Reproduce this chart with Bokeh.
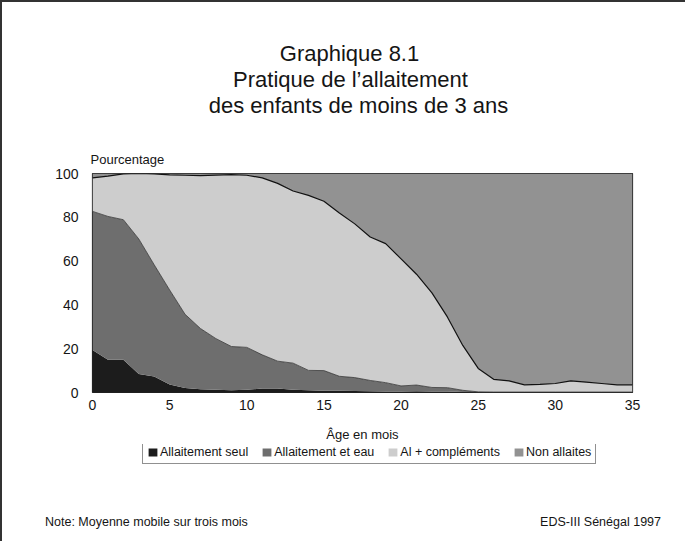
import numpy as np
from bokeh.plotting import figure
from bokeh.layouts import column
from bokeh.models import ColumnDataSource, Legend, LegendItem, Range1d, Title, Label, Div
from bokeh.embed import file_html
from bokeh.resources import INLINE

# ---- data ----
months = list(range(36))
seul = [19.4, 15.0, 15.0, 8.5, 7.3, 3.6, 2.0, 1.5, 1.2, 1.0, 1.2, 1.8,
        1.8, 1.2, 1.0, 0.8, 0.8, 0.7, 0.6, 0.5, 0.5, 0.6, 0.5, 0.4,
        0.2, 0.1, 0.1, 0.1, 0.1, 0.1, 0.1, 0.1, 0.1, 0.1, 0.1, 0.1]
eau = [63.3, 65.4, 63.9, 61.6, 51.0, 43.2, 33.7, 27.7, 23.4, 20.0, 19.4, 15.4,
       12.5, 12.2, 9.1, 9.2, 6.6, 6.1, 4.9, 4.0, 2.5, 2.8, 1.8, 1.8,
       0.8, 0.2, 0.1, 0.1, 0.1, 0.1, 0.1, 0.1, 0.1, 0.1, 0.1, 0.1]
complements = [15.3, 18.4, 20.9, 29.9, 41.5, 52.6, 63.5, 69.8, 74.7, 78.5, 78.6, 80.8,
               81.2, 78.6, 79.9, 77.3, 74.6, 70.2, 65.5, 63.5, 58.0, 50.6, 43.2, 32.3,
               20.5, 10.7, 5.8, 5.1, 3.3, 3.5, 3.9, 5.1, 4.5, 3.9, 3.3, 3.3]
non_allaites = [2.0, 1.2, 0.2, 0.0, 0.2, 0.6, 0.8, 1.0, 0.7, 0.5, 0.8, 2.0,
                4.5, 8.0, 10.0, 12.7, 18.0, 23.0, 29.0, 32.0, 39.0, 46.0, 54.5, 65.5,
                78.5, 89.0, 94.0, 94.7, 96.5, 96.3, 95.9, 94.7, 95.3, 95.9, 96.5, 96.5]
series_names = ["Allaitement seul", "Allaitement et eau", "Al + compléments", "Non allaites"]
x_ticks = [0, 5, 10, 15, 20, 25, 30, 35]
y_ticks = [0, 20, 40, 60, 80, 100]
title_lines = ["Graphique 8.1", "Pratique de l\u2019allaitement", "des enfants de moins de 3 ans"]
note_left = "Note: Moyenne mobile sur trois mois"
note_right = "EDS-III Sénégal 1997"

FONT = "Liberation Sans"
INK = "#151515"
fills = ["#1c1c1c", "#6e6e6e", "#cdcdcd", "#929292"]
stack_cols = ["seul", "eau", "compl", "non"]

src = ColumnDataSource(dict(age=months, seul=seul, eau=eau, compl=complements, non=non_allaites))


def blank(h):
    f = figure(width=683, height=h, output_backend="svg", toolbar_location=None,
               x_axis_type=None, y_axis_type=None, x_range=Range1d(0, 1), y_range=Range1d(0, 1),
               min_border=0, outline_line_color=None,
               background_fill_color="white", border_fill_color="white")
    f.grid.visible = False
    return f


def lab(f, text, x, y, size, align="left"):
    f.add_layout(Label(x=x, y=y, x_units="screen", y_units="screen", text=text,
                       text_align=align, text_baseline="alphabetic",
                       text_font=FONT, text_font_size=size, text_color=INK))


# ---- title block (its frame is aligned with the chart frame) ----
top = blank(140)
for txt, x, y in zip(title_lines, [257, 258, 266], [89, 63, 37]):
    lab(top, txt, x, y, "22px", "center")

# ---- main chart ----
p = figure(frame_width=540, frame_height=219, output_backend="svg", toolbar_location=None,
           x_range=Range1d(0, 35), y_range=Range1d(0, 100),
           min_border_left=90, min_border_right=53, min_border_top=30, min_border_bottom=48,
           background_fill_color="white", border_fill_color="white")
p.outline_line_color = "#222222"
p.outline_line_width = 1.2

rs = p.varea_stack(stack_cols, x="age", source=src, color=fills)
cum = np.cumsum(np.array([seul, eau, complements]), axis=0)
p.line(months, cum[1], line_color="#333333", line_width=0.8)
p.line(months, cum[2], line_color="#111111", line_width=1.2)

p.grid.visible = False
p.xaxis.ticker = x_ticks
p.yaxis.ticker = y_ticks
for ax in (p.xaxis, p.yaxis):
    ax.axis_line_color = None
    ax.major_tick_line_color = None
    ax.minor_tick_line_color = None
    ax.major_tick_out = 0
    ax.major_tick_in = 0
    ax.minor_tick_out = 0
    ax.major_label_text_font = FONT
    ax.major_label_text_font_size = "14px"
    ax.major_label_text_color = INK
p.xaxis.major_label_standoff = 7
p.yaxis.major_label_standoff = 14
p.xaxis.axis_label = "Âge en mois"
p.xaxis.axis_label_text_font = FONT
p.xaxis.axis_label_text_font_size = "13px"
p.xaxis.axis_label_text_font_style = "normal"
p.xaxis.axis_label_text_color = INK
p.xaxis.axis_label_standoff = 14

p.add_layout(Title(text="Pourcentage", align="left", offset=-2, standoff=14,
                   text_font=FONT, text_font_size="13px", text_font_style="normal",
                   text_color=INK), "above")

# ---- legend block ----
bot = blank(40)
rb = bot.varea_stack(stack_cols, x="age", source=src, color=fills, visible=False)
legend = Legend(items=[LegendItem(label=n, renderers=[r]) for n, r in zip(series_names, rb)],
                orientation="horizontal", location=(50, 20), click_policy="none",
                label_text_font=FONT, label_text_font_size="12.5px", label_text_color=INK,
                glyph_width=11, glyph_height=10, label_height=12, label_standoff=2, spacing=13,
                padding=4, margin=0, border_line_color="#222222", border_line_width=1,
                background_fill_color="white", background_fill_alpha=1)
bot.add_layout(legend)

# ---- notes ----
notes = Div(text=("<div style=\"width:683px;box-sizing:border-box;display:flex;"
                  "justify-content:space-between;"
                  "font-family:'Liberation Sans';font-size:12.5px;line-height:14px;color:#151515;"
                  "padding:26px 29px 0 38px;\">"
                  f"<span>{note_left}</span><span>{note_right}</span></div>"),
            width=683, height=62)

layout = column(top, p, bot, notes, spacing=0)
layout.styles = {"border-top": "2px solid #333", "border-left": "2px solid #333"}

open("out.html", "w").write(file_html(layout, INLINE))
